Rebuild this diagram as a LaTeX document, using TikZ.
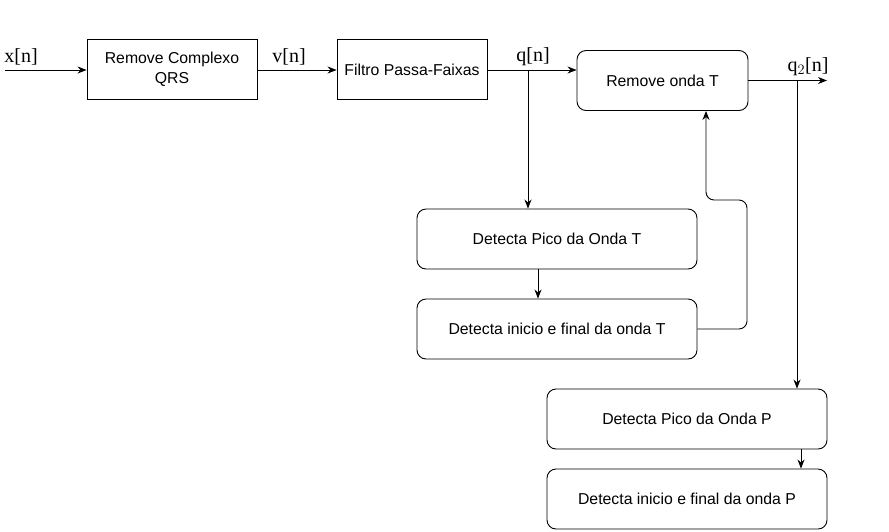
\documentclass[tikz,border=0pt]{standalone}
\usepackage{fontspec}
\setmainfont{Liberation Sans}
\newfontfamily\lblfont{Liberation Serif}
\usetikzlibrary{arrows.meta}
\begin{document}
\begin{tikzpicture}[x=1pt,y=-1pt,
  every node/.style={font=\fontsize{15.8}{20}\selectfont},
  sqbox/.style={draw,line width=0.9pt,minimum width=#1,minimum height=60pt,inner sep=0pt,align=center},
  rbox/.style={draw,line width=0.9pt,rounded corners=9pt,minimum width=#1,minimum height=60pt,inner sep=0pt,align=center},
  conn/.style={line width=0.9pt,-{Stealth[length=9pt,width=7pt]}},
  lbl/.style={font=\lblfont\fontsize{20}{22}\selectfont,inner sep=0pt}]
\useasboundingbox (0,0) rectangle (889,531);
\node[sqbox=170pt] (rc) at (172,69) {Remove Complexo\\QRS};
\node[sqbox=150pt] (fp) at (412,69.5) {Filtro Passa-Faixas};
\node[rbox=171pt] (rt) at (662.5,80.5) {Remove onda T};
\node[rbox=280pt] (dpt) at (557,239) {Detecta Pico da Onda T};
\node[rbox=280pt] (dit) at (557,329) {Detecta inicio e final da onda T};
\node[rbox=280pt] (dpp) at (687,419) {Detecta Pico da Onda P};
\node[rbox=280pt] (dip) at (687,499) {Detecta inicio e final da onda P};
\coordinate (xin) at (5,70);
\coordinate (qout) at (827,80.5);
\coordinate (qsplit) at (528,70);
\coordinate (q2split) at (797,80.5);
\node[lbl] at (21,57) {x[n]};
\node[lbl] at (289,57) {v[n]};
\node[lbl] at (533,57) {q[n]};
\node[lbl] at (808,67) {q$_2$[n]};
\draw[conn] (xin) -- (rc.west |- xin);
\draw[conn] (rc.east |- 0,70) -- (fp.west |- 0,70);
\draw[conn] (fp.east |- 0,70) -- (rt.west |- 0,70);
\draw[conn] (rt.east) -- (qout);
\draw[conn] (qsplit) -- (qsplit |- dpt.north);
\draw[conn] (538,0 |- dpt.south) -- (538,0 |- dit.north);
\draw[conn,rounded corners=8pt] (dit.east) -- (747,329) -- (747,200) -- (706,200) -- (706,0 |- rt.south);
\draw[conn] (q2split) -- (q2split |- dpp.north);
\draw[conn] (801,0 |- dpp.south) -- (801,0 |- dip.north);
\end{tikzpicture}
\end{document}
